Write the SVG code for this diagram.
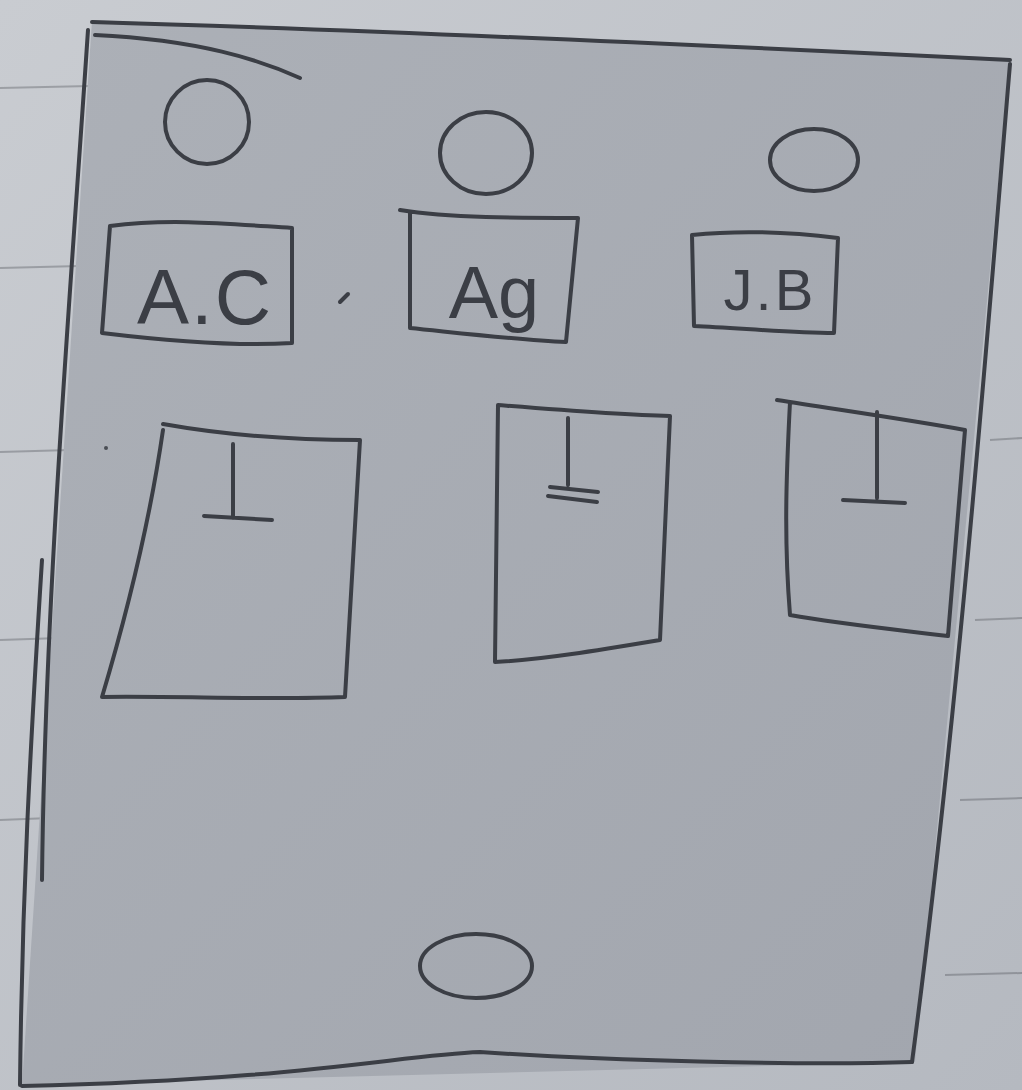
<svg xmlns="http://www.w3.org/2000/svg" width="1022" height="1090" viewBox="0 0 1022 1090">
<defs>
<style>
.ink{fill:none;stroke:#3b3e45;stroke-width:4;stroke-linecap:round;stroke-linejoin:round}
.thin{fill:none;stroke:#4a4d54;stroke-width:2}
.lbl{font-family:"Liberation Sans",Arial,sans-serif;fill:#3b3e45;font-weight:normal}
</style>
<linearGradient id="bg" x1="0" y1="0" x2="1" y2="1">
<stop offset="0" stop-color="#c9ccd1"/>
<stop offset="1" stop-color="#b5b9c0"/>
</linearGradient>
<linearGradient id="pg" x1="0" y1="0" x2="1" y2="1">
<stop offset="0" stop-color="#acb0b7"/>
<stop offset="1" stop-color="#a2a6ae"/>
</linearGradient>
</defs>
<rect x="0" y="0" width="1022" height="1090" fill="url(#bg)"/>
<g id="ruled-lines" class="thin" opacity="0.35">
<line x1="0" y1="88" x2="90" y2="86"/>
<line x1="0" y1="268" x2="80" y2="266"/>
<line x1="0" y1="452" x2="70" y2="450"/>
<line x1="0" y1="640" x2="60" y2="638"/>
<line x1="0" y1="820" x2="50" y2="818"/>
<line x1="990" y1="440" x2="1022" y2="438"/>
<line x1="975" y1="620" x2="1022" y2="618"/>
<line x1="960" y1="800" x2="1022" y2="798"/>
<line x1="945" y1="975" x2="1022" y2="973"/>
</g>
<g id="page">
<path d="M92,20 L1010,58 L915,1062 L22,1085 Z" fill="url(#pg)"/>
<path class="ink" d="M92,22 C300,28 600,40 1010,60"/>
<path class="ink" d="M95,35 C200,40 260,60 300,78" stroke-width="2.5"/>
<path class="ink" d="M1010,64 C990,300 960,700 912,1062"/>
<path class="ink" d="M88,30 C70,300 45,600 42,880" stroke-width="3"/>
<path class="ink" d="M42,560 C30,750 22,900 20,1085"/>
<path class="ink" d="M22,1086 C300,1080 400,1055 480,1052 C600,1060 800,1066 912,1062"/>
</g>
<g id="circle-1"><ellipse class="ink" cx="207" cy="122" rx="42" ry="42"/></g>
<g id="circle-2"><ellipse class="ink" cx="486" cy="153" rx="46" ry="41"/></g>
<g id="circle-3"><ellipse class="ink" cx="814" cy="160" rx="44" ry="31"/></g>
<g id="label-ac">
<path class="ink" d="M110,226 C170,218 230,224 292,228 L292,343 C230,347 160,340 102,333 L110,226"/>
<text class="lbl" x="205" y="324" font-size="78" text-anchor="middle" letter-spacing="2">A.C</text>
</g>
<g id="tick"><line class="ink" x1="340" y1="302" x2="348" y2="294" stroke-width="3"/></g>
<g id="label-ag">
<path class="ink" d="M400,210 C450,218 520,218 578,218 L566,342 C520,340 460,333 410,328 L410,212"/>
<text class="lbl" x="494" y="318" font-size="74" text-anchor="middle">Ag</text>
</g>
<g id="label-jb">
<path class="ink" d="M692,235 C740,230 790,232 838,238 L834,333 C790,333 740,328 694,326 Z"/>
<text class="lbl" x="770" y="310" font-size="58" text-anchor="middle" letter-spacing="3">J.B</text>
</g>
<g id="dot"><circle cx="106" cy="448" r="2" fill="#4a4d54"/></g>
<g id="panel-1">
<path class="ink" d="M163,424 C230,436 300,440 360,440 L345,697 C270,700 180,696 102,697 C125,620 150,520 163,430"/>
<path class="ink" d="M233,444 L233,518 M204,516 L272,520"/>
</g>
<g id="panel-2">
<path class="ink" d="M498,405 C560,410 620,415 670,416 L660,640 C600,650 540,660 495,662 Z"/>
<path class="ink" d="M568,418 L568,485 M550,487 L598,492 M548,496 L597,502" stroke-width="3"/>
</g>
<g id="panel-3">
<path class="ink" d="M777,400 C840,410 910,420 965,430 L948,636 C900,630 840,624 790,615 C784,540 786,480 790,402"/>
<path class="ink" d="M877,412 L877,498 M843,500 L905,503" stroke-width="5"/>
</g>
<g id="circle-bottom"><ellipse class="ink" cx="476" cy="966" rx="56" ry="32"/></g>
<g id="connectors"></g>
</svg>
